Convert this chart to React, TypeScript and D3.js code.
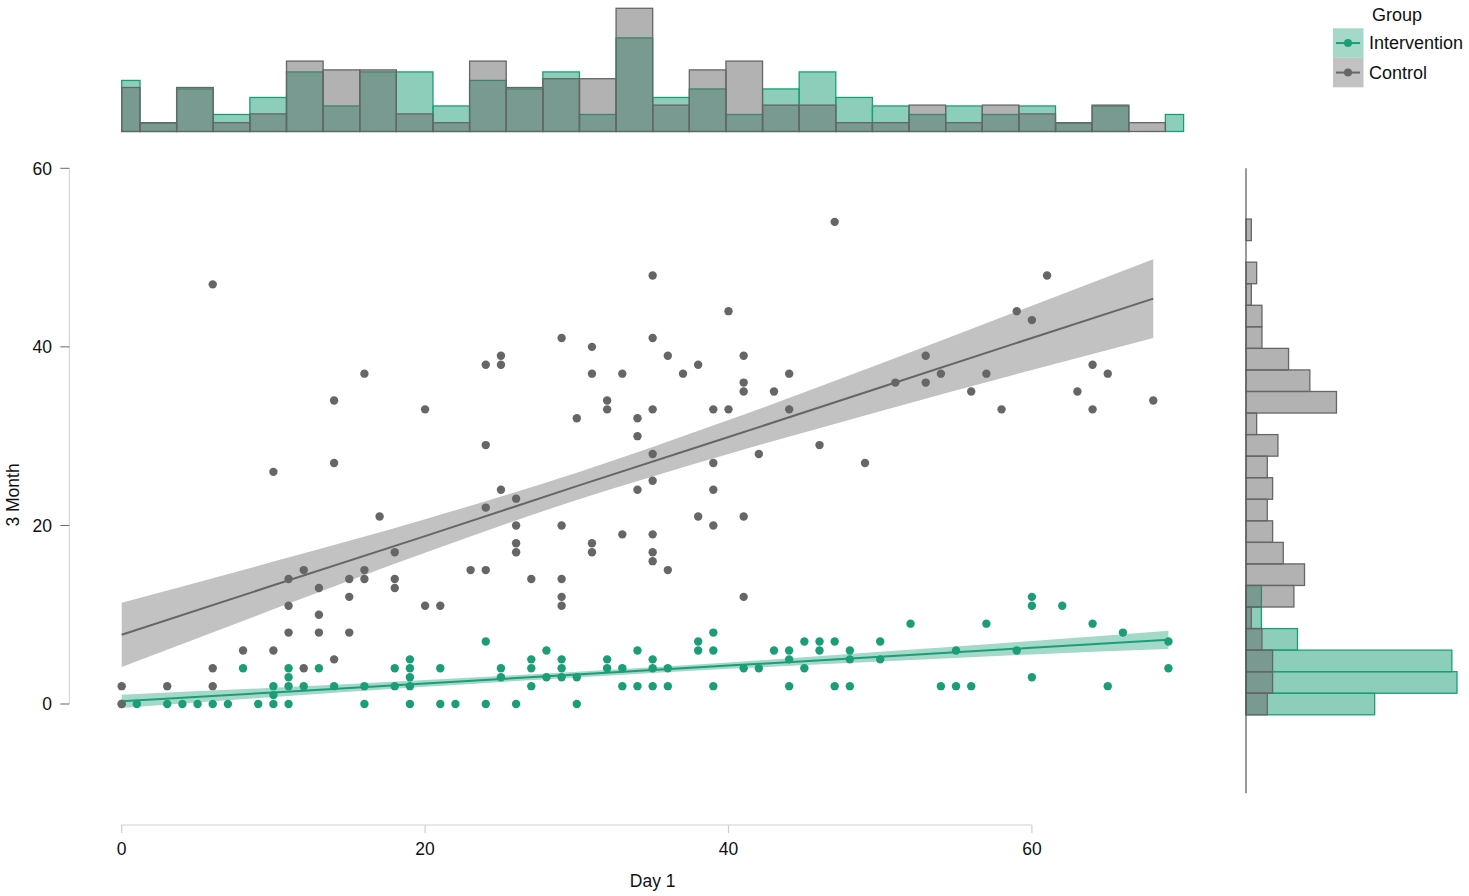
import React, { useRef, useEffect } from 'react';
import * as d3 from 'd3';

// scatter: [Day 1, 3 Month]
const interventionPoints: [number, number][] = [
  [0, 0], [1, 0], [3, 0], [4, 0], [5, 0], [6, 0], [7, 0], [8, 4], [9, 0], [10, 0], [10, 1], [10, 2],
  [11, 0], [11, 2], [11, 3], [11, 4], [12, 2], [13, 4], [14, 2], [16, 0], [16, 2], [18, 2], [18, 4],
  [19, 0], [19, 2], [19, 3], [19, 4], [19, 5], [21, 4], [21, 0], [22, 0], [24, 7], [24, 0], [25, 4],
  [25, 3], [26, 0], [27, 5], [27, 4], [27, 2], [28, 6], [28, 3], [29, 5], [29, 4], [29, 3], [30, 3],
  [30, 0], [32, 5], [32, 4], [33, 4], [33, 2], [34, 6], [34, 2], [35, 5], [35, 4], [35, 2], [36, 4],
  [36, 2], [38, 7], [38, 6], [39, 8], [39, 6], [39, 2], [41, 4], [42, 4], [43, 6], [44, 6], [44, 5],
  [44, 2], [45, 7], [45, 4], [46, 7], [46, 6], [47, 7], [47, 2], [48, 6], [48, 5], [48, 2], [50, 7],
  [50, 5], [52, 9], [54, 2], [55, 6], [55, 2], [56, 2], [57, 9], [59, 6], [60, 12], [60, 11], [60, 3],
  [62, 11], [64, 9], [65, 2], [66, 8], [69, 7], [69, 4],
];

const controlPoints: [number, number][] = [
  [0, 2], [0, 0], [3, 2], [6, 4], [6, 2], [8, 6], [10, 6], [12, 4], [14, 5], [6, 47], [16, 37], [14, 34],
  [20, 33], [24, 38], [25, 39], [25, 38], [24, 29], [10, 26], [14, 27], [25, 24], [17, 21], [24, 22],
  [18, 17], [12, 15], [11, 14], [15, 14], [16, 15], [16, 14], [18, 14], [18, 13], [13, 13], [15, 12],
  [11, 11], [20, 11], [21, 11], [23, 15], [24, 15], [13, 10], [11, 8], [13, 8], [15, 8],
  [47, 54], [35, 48], [40, 44], [29, 41], [35, 41], [31, 40], [36, 39], [41, 39], [31, 37], [33, 37],
  [37, 37], [38, 38], [44, 37], [41, 36], [41, 35], [43, 35], [32, 34], [32, 33], [30, 32], [34, 32],
  [35, 33], [39, 33], [40, 33], [44, 33], [34, 30], [46, 29], [35, 28], [42, 28], [39, 27], [49, 27],
  [35, 25], [34, 24], [39, 24], [26, 23], [26, 20], [29, 20], [38, 21], [39, 20], [41, 21], [33, 19],
  [35, 19], [26, 18], [26, 17], [31, 18], [31, 17], [35, 17], [35, 16], [27, 14], [29, 14], [36, 15],
  [29, 12], [29, 11], [41, 12],
  [61, 48], [59, 44], [60, 43], [53, 39], [51, 36], [53, 36], [54, 37], [57, 37], [56, 35], [58, 33],
  [64, 38], [65, 37], [63, 35], [64, 33], [68, 34],
];

// fitted lines and confidence bands
const controlFitX = [0, 10, 20, 30, 40, 50, 60, 68];
const controlFit = [7.75, 13.3, 18.8, 24.4, 29.9, 35.45, 41.0, 45.4];
const controlLower = [4.15, 10.6, 16.95, 22.85, 28.0, 32.8, 37.4, 41.0];
const controlUpper = [11.35, 15.95, 20.7, 25.9, 31.8, 38.1, 44.6, 49.8];

const interventionFitX = [0, 10, 20, 30, 40, 50, 60, 69];
const interventionFit = [0.3, 1.3, 2.3, 3.3, 4.3, 5.3, 6.3, 7.2];
const interventionLower = [-0.45, 0.78, 1.92, 2.98, 3.94, 4.76, 5.55, 6.15];
const interventionUpper = [1.05, 1.82, 2.68, 3.62, 4.66, 5.84, 7.05, 8.2];

// marginal histograms (counts per bin, bins centred on k * binWidth)
const binWidth = 2.414;
const topCountsIntervention = [6, 1, 5, 2, 4, 7, 3, 7, 7, 3, 6, 5, 7, 2, 11, 4, 5, 2, 5, 7, 4, 3, 2, 3, 2, 3, 1, 3, 0, 2];
const topCountsControl = [5, 1, 5, 1, 2, 8, 7, 7, 2, 1, 8, 5, 6, 6, 14, 3, 7, 8, 3, 3, 1, 1, 3, 1, 3, 2, 1, 3, 1, 0];
const sideCountsIntervention = [25, 41, 40, 10, 3, 3];
const sideCountsControl = [4, 5, 5, 3, 1, 9, 11, 7, 5, 4, 5, 4, 6, 2, 17, 12, 8, 3, 3, 1, 2, 0, 1];

const xTicks = [0, 20, 40, 60];
const yTicks = [0, 20, 40, 60];
const groupNames = ['Intervention', 'Control'];
const groupColors = ['#1b9e77', '#666666'];
const bandColors = ['#a4d8c9', '#c2c2c2'];

const FONT = '"Liberation Sans", Arial, sans-serif';

export default function App() {
  const svgRef = useRef<SVGSVGElement>(null);

  useEffect(() => {
    const svg = d3.select(svgRef.current);
    svg.selectAll('*').remove();

    const x = d3.scaleLinear().domain([0, 70]).range([121.7, 1183.6]);
    const y = d3.scaleLinear().domain([-10, 60]).range([793.3, 168.3]);

    // --- top marginal histogram
    const topGroups = [topCountsIntervention, topCountsControl];
    const topDens = topGroups.map(c => { const n = d3.sum(c); return c.map(v => v / n); });
    const topY = d3.scaleLinear().domain([0, d3.max(topDens.flat())!]).range([131.5, 8.3]);
    const topG = svg.append('g');
    topDens.forEach((dens, gi) => {
      topG.selectAll(null)
        .data(dens.map((d, k) => ({ d, k })).filter(b => b.d > 0))
        .enter()
        .append('rect')
        .attr('x', b => x(Math.max(0, b.k * binWidth - binWidth / 2)))
        .attr('width', b => x(Math.min(70, b.k * binWidth + binWidth / 2)) - x(Math.max(0, b.k * binWidth - binWidth / 2)))
        .attr('y', b => topY(b.d))
        .attr('height', b => topY(0) - topY(b.d))
        .attr('fill', groupColors[gi])
        .attr('fill-opacity', 0.5)
        .attr('stroke', groupColors[gi])
        .attr('stroke-width', 1.3);
    });

    // --- right marginal histogram
    const sideGroups = [sideCountsIntervention, sideCountsControl];
    const sideDens = sideGroups.map(c => { const n = d3.sum(c); return c.map(v => v / n); });
    const sideX = d3.scaleLinear().domain([0, d3.max(sideDens.flat())!]).range([1246, 1457]);
    const sideG = svg.append('g');
    sideDens.forEach((dens, gi) => {
      sideG.selectAll(null)
        .data(dens.map((d, k) => ({ d, k })).filter(b => b.d > 0))
        .enter()
        .append('rect')
        .attr('x', sideX(0))
        .attr('width', b => sideX(b.d) - sideX(0))
        .attr('y', b => y(b.k * binWidth + binWidth / 2))
        .attr('height', b => y(b.k * binWidth - binWidth / 2) - y(b.k * binWidth + binWidth / 2))
        .attr('fill', groupColors[gi])
        .attr('fill-opacity', 0.5)
        .attr('stroke', groupColors[gi])
        .attr('stroke-width', 1.3);
    });
    sideG.append('line')
      .attr('x1', sideX(0)).attr('x2', sideX(0))
      .attr('y1', y(60)).attr('y2', y(-10))
      .attr('stroke', '#555').attr('stroke-width', 1.2);

    // --- bands and fitted lines
    const fits = [
      { xs: interventionFitX, fit: interventionFit, lo: interventionLower, hi: interventionUpper },
      { xs: controlFitX, fit: controlFit, lo: controlLower, hi: controlUpper },
    ];
    const plot = svg.append('g');
    fits.forEach((f, gi) => {
      const area = d3.area<number>()
        .x(i => x(f.xs[i]))
        .y0(i => y(f.lo[i]))
        .y1(i => y(f.hi[i]))
        .curve(d3.curveMonotoneX);
      plot.append('path')
        .attr('d', area(d3.range(f.xs.length)))
        .attr('fill', bandColors[gi]);
    });
    fits.forEach((f, gi) => {
      const line = d3.line<number>()
        .x(i => x(f.xs[i]))
        .y(i => y(f.fit[i]));
      plot.append('path')
        .attr('d', line(d3.range(f.xs.length)))
        .attr('fill', 'none')
        .attr('stroke', groupColors[gi])
        .attr('stroke-width', 2);
    });

    // --- points
    [interventionPoints, controlPoints].forEach((pts, gi) => {
      plot.selectAll(null)
        .data(pts)
        .enter()
        .append('circle')
        .attr('cx', d => x(d[0]))
        .attr('cy', d => y(d[1]))
        .attr('r', 4.2)
        .attr('fill', groupColors[gi]);
    });

    // --- y axis (range frame)
    const yAxisX = 69.3;
    const yAx = svg.append('g').style('font-family', FONT);
    yAx.append('line')
      .attr('x1', yAxisX).attr('x2', yAxisX)
      .attr('y1', y(60)).attr('y2', y(0))
      .attr('stroke', '#cfcfcf');
    yAx.selectAll('line.tick')
      .data(yTicks)
      .enter()
      .append('line')
      .attr('class', 'tick')
      .attr('x1', yAxisX - 9).attr('x2', yAxisX)
      .attr('y1', d => y(d)).attr('y2', d => y(d))
      .attr('stroke', '#666');
    yAx.selectAll('text')
      .data(yTicks)
      .enter()
      .append('text')
      .attr('x', 52)
      .attr('y', d => y(d) + 6.3)
      .attr('text-anchor', 'end')
      .attr('font-size', 17.5)
      .attr('fill', '#111')
      .text(d => d);
    yAx.append('text')
      .attr('transform', `translate(13,495) rotate(-90)`)
      .attr('text-anchor', 'middle')
      .attr('dominant-baseline', 'central')
      .attr('font-size', 17.5)
      .attr('fill', '#111')
      .text('3 Month');

    // --- x axis (range frame)
    const xAxisY = 825;
    const xAx = svg.append('g').style('font-family', FONT);
    xAx.append('line')
      .attr('x1', x(0)).attr('x2', x(60))
      .attr('y1', xAxisY).attr('y2', xAxisY)
      .attr('stroke', '#cfcfcf').attr('stroke-width', 1.2);
    xAx.selectAll('line.tick')
      .data(xTicks)
      .enter()
      .append('line')
      .attr('class', 'tick')
      .attr('x1', d => x(d)).attr('x2', d => x(d))
      .attr('y1', xAxisY).attr('y2', xAxisY + 8)
      .attr('stroke', '#cfcfcf').attr('stroke-width', 1.2);
    xAx.selectAll('text.lab')
      .data(xTicks)
      .enter()
      .append('text')
      .attr('class', 'lab')
      .attr('x', d => x(d))
      .attr('y', 854.5)
      .attr('text-anchor', 'middle')
      .attr('font-size', 17.5)
      .attr('fill', '#111')
      .text(d => d);
    xAx.append('text')
      .attr('x', (x(0) + x(70)) / 2)
      .attr('y', 886.5)
      .attr('text-anchor', 'middle')
      .attr('font-size', 17.5)
      .attr('fill', '#111')
      .text('Day 1');

    // --- legend
    const leg = svg.append('g').style('font-family', FONT);
    leg.append('text')
      .attr('x', 1397).attr('y', 20.7)
      .attr('text-anchor', 'middle')
      .attr('font-size', 18)
      .attr('fill', '#111')
      .text('Group');
    groupNames.forEach((name, gi) => {
      const top = 28.3 + gi * 29.5;
      leg.append('rect')
        .attr('x', 1333).attr('y', top)
        .attr('width', 30.5).attr('height', 29.5)
        .attr('fill', bandColors[gi]);
      leg.append('line')
        .attr('x1', 1336).attr('x2', 1360)
        .attr('y1', top + 14.75).attr('y2', top + 14.75)
        .attr('stroke', groupColors[gi]).attr('stroke-width', 2);
      leg.append('circle')
        .attr('cx', 1348).attr('cy', top + 14.75).attr('r', 4)
        .attr('fill', groupColors[gi]);
      leg.append('text')
        .attr('x', 1369).attr('y', top + 21)
        .attr('font-size', 18)
        .attr('fill', '#111')
        .text(name);
    });
  }, []);

  return (
    <svg
      ref={svgRef}
      width={1469}
      height={896}
      viewBox="0 0 1469 896"
      style={{ position: 'absolute', left: 0, top: 0, background: '#fff' }}
    ></svg>
  );
}
